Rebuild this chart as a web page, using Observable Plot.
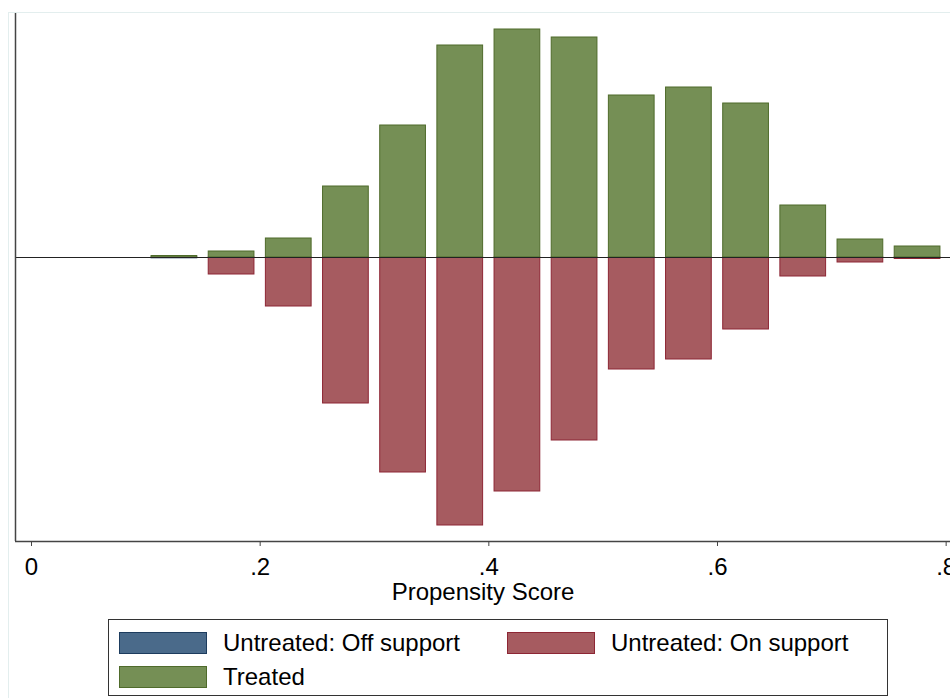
<!DOCTYPE html>
<html>
<head>
<meta charset="utf-8">
<script src="https://cdn.jsdelivr.net/npm/d3@7"></script>
<script src="https://cdn.jsdelivr.net/npm/@observablehq/plot@0.6"></script>
<style>
  html, body { margin: 0; padding: 0; background: #fff; overflow: hidden; }
  #wrap { position: relative; width: 950px; height: 698px; background: #fff; font-family: "Liberation Sans", Arial, sans-serif; }
  #chart { position: absolute; left: 0; top: 0; }
  #outer { position: absolute; left: 8px; top: 12px; width: 960px; height: 700px; border-left: 1px solid #e3eeee; border-top: 1px solid #e3eeee; }
  #legend { position: absolute; left: 108px; top: 619px; width: 780px; height: 77px; border: 1px solid #333; box-sizing: border-box; background: #fff; }
  .item { position: absolute; display: flex; align-items: center; font-size: 24px; color: #000; white-space: nowrap; }
  .sw { width: 88px; height: 22px; box-sizing: border-box; border: 1px solid; margin-right: 16px; }
</style>
</head>
<body>
<div id="wrap">
  <div id="outer"></div>
  <div id="chart"></div>
  <div id="legend"></div>
</div>
<script>
// Bin centres (propensity score) and bar heights (density-like units)
const bins = [0.125, 0.175, 0.225, 0.275, 0.325, 0.375, 0.425, 0.475, 0.525, 0.575, 0.625, 0.675, 0.725, 0.775];
const treated = [1.5, 6, 19, 71, 132, 212, 228, 220, 162, 170, 154, 52, 18, 11];
const untreatedOn = [0, 17, 49, 146, 215, 268, 234, 183, 112, 102, 72, 19, 5, 1.5];
const untreatedOff = [0.8, 0, 0, 0, 0, 0, 0, 0, 0, 0, 0, 0, 0, 0];
const xTicks = [0, 0.2, 0.4, 0.6, 0.8];
const legendLabels = ["Untreated: Off support", "Untreated: On support", "Treated"];
const barWidth = 0.04;
const xDomain = [-0.014, 0.8038];
const yDomain = [-284, 244];

const colors = {
  off: { fill: "#4a6a8a", stroke: "#1d3c5e" },
  on: { fill: "#a65b60", stroke: "#8d2634" },
  tr: { fill: "#758f55", stroke: "#4f6b2b" }
};

const trData = bins.map((b, i) => ({ bin: b, v: treated[i] }));
const onData = bins.map((b, i) => ({ bin: b, v: -untreatedOn[i] }));
const offData = bins.map((b, i) => ({ bin: b, v: -(untreatedOn[i] + untreatedOff[i]), base: -untreatedOn[i] })).filter((d, i) => untreatedOff[i] > 0);

const chart = Plot.plot({
  width: 950,
  height: 608,
  marginLeft: 15,
  marginRight: 0,
  marginTop: 13,
  marginBottom: 67,
  style: { fontFamily: "'Liberation Sans', Arial, sans-serif", background: "transparent", overflow: "visible" },
  x: { domain: xDomain },
  y: { domain: yDomain, axis: null },
  marks: [
    Plot.rectY(onData, { x1: d => d.bin - barWidth / 2, x2: d => d.bin + barWidth / 2, y1: 0, y2: "v", fill: colors.on.fill, stroke: colors.on.stroke, strokeWidth: 1, inset: 0 }),
    Plot.rectY(offData, { x1: d => d.bin - barWidth / 2, x2: d => d.bin + barWidth / 2, y1: "base", y2: "v", fill: colors.off.fill, stroke: colors.off.stroke, strokeWidth: 1, inset: 0 }),
    Plot.rectY(trData, { x1: d => d.bin - barWidth / 2, x2: d => d.bin + barWidth / 2, y1: 0, y2: "v", fill: colors.tr.fill, stroke: colors.tr.stroke, strokeWidth: 1, inset: 0 }),
    Plot.ruleY([0], { stroke: "#222", strokeWidth: 1 }),
    Plot.ruleX([xDomain[0]], { stroke: "#444", strokeWidth: 1.5 }),
    Plot.ruleY([yDomain[0]], { stroke: "#444", strokeWidth: 1.5 }),
    Plot.axisX({
      ticks: xTicks,
      tickFormat: d => d === 0 ? "0" : String(d).replace(/^0\./, "."),
      tickSize: 5,
      tickPadding: 11,
      fontSize: 24,
      stroke: "#444",
      color: "#000",
      label: "Propensity Score",
      labelAnchor: "center",
      labelArrow: "none",
      labelOffset: 58
    })
  ]
});
document.getElementById("chart").appendChild(chart);
chart.querySelectorAll("text").forEach(t => t.setAttribute("fill", "#000"));

// legend
const legend = document.getElementById("legend");
const items = [
  { label: legendLabels[0], c: colors.off, left: 10, top: 11 },
  { label: legendLabels[1], c: colors.on, left: 398, top: 11 },
  { label: legendLabels[2], c: colors.tr, left: 10, top: 45 }
];
items.forEach(it => {
  const el = document.createElement("div");
  el.className = "item";
  el.style.left = it.left + "px";
  el.style.top = it.top + "px";
  el.style.height = "24px";
  const sw = document.createElement("div");
  sw.className = "sw";
  sw.style.background = it.c.fill;
  sw.style.borderColor = it.c.stroke;
  el.appendChild(sw);
  const tx = document.createElement("span");
  tx.textContent = it.label;
  el.appendChild(tx);
  legend.appendChild(el);
});
</script>
</body>
</html>
